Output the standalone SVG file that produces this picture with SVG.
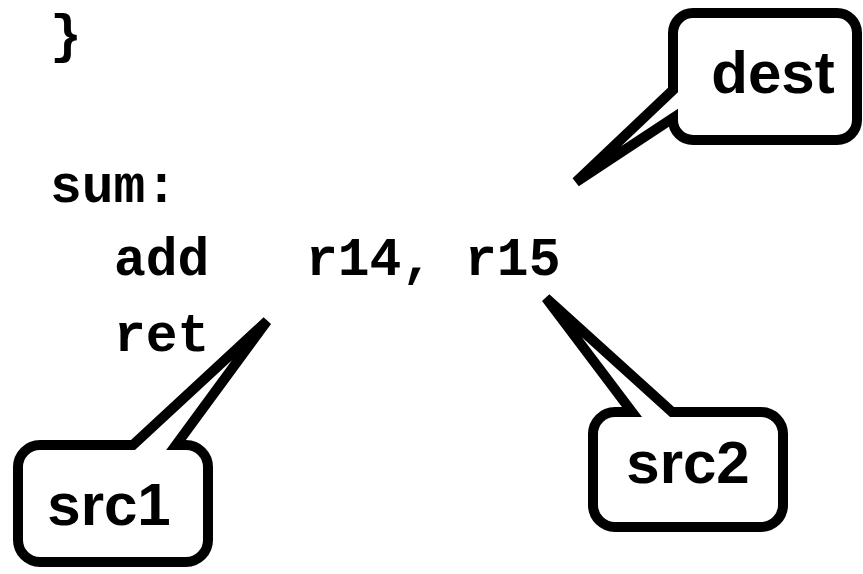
<svg xmlns="http://www.w3.org/2000/svg" width="863" height="574" viewBox="0 0 863 574">
<style>
.code{font-family:"Liberation Mono","Courier New",monospace;font-weight:bold;font-size:53px;fill:#000}
.lbl{font-family:"Liberation Sans",Arial,sans-serif;font-weight:bold;font-size:60px;fill:#000;text-anchor:middle}
.callout{fill:#fff;stroke:#000;stroke-width:10;stroke-linejoin:miter}
</style>
<rect width="863" height="574" fill="#fff"/>
<g id="code">
<text class="code" x="50" y="52">}</text>
<text class="code" x="50" y="202">sum:</text>
<text class="code" x="114" y="275">add</text>
<text class="code" x="306" y="275">r14, r15</text>
<text class="code" x="114" y="351">ret</text>
</g>
<g id="connectors"></g>
<g id="dest">
<path class="callout" d="M693,13 H837 A20 20 0 0 1 857,33 V120 A20 20 0 0 1 837,140 H693 A20 20 0 0 1 673,120 V118 L576,182 L673,90 V33 A20 20 0 0 1 693,13 Z"/>
<text class="lbl" x="773" y="93">dest</text>
</g>
<g id="src1">
<path class="callout" d="M40,445 H133 L267,321 L176,445 H186 A22 22 0 0 1 208,467 V540 A22 22 0 0 1 186,562 H40 A22 22 0 0 1 18,540 V467 A22 22 0 0 1 40,445 Z"/>
<text class="lbl" x="109" y="525">src1</text>
</g>
<g id="src2">
<path class="callout" d="M615,412 H632 L546,298 L672,412 H761 A22 22 0 0 1 783,434 V505 A22 22 0 0 1 761,527 H615 A22 22 0 0 1 593,505 V434 A22 22 0 0 1 615,412 Z"/>
<text class="lbl" x="688" y="483">src2</text>
</g>
</svg>
